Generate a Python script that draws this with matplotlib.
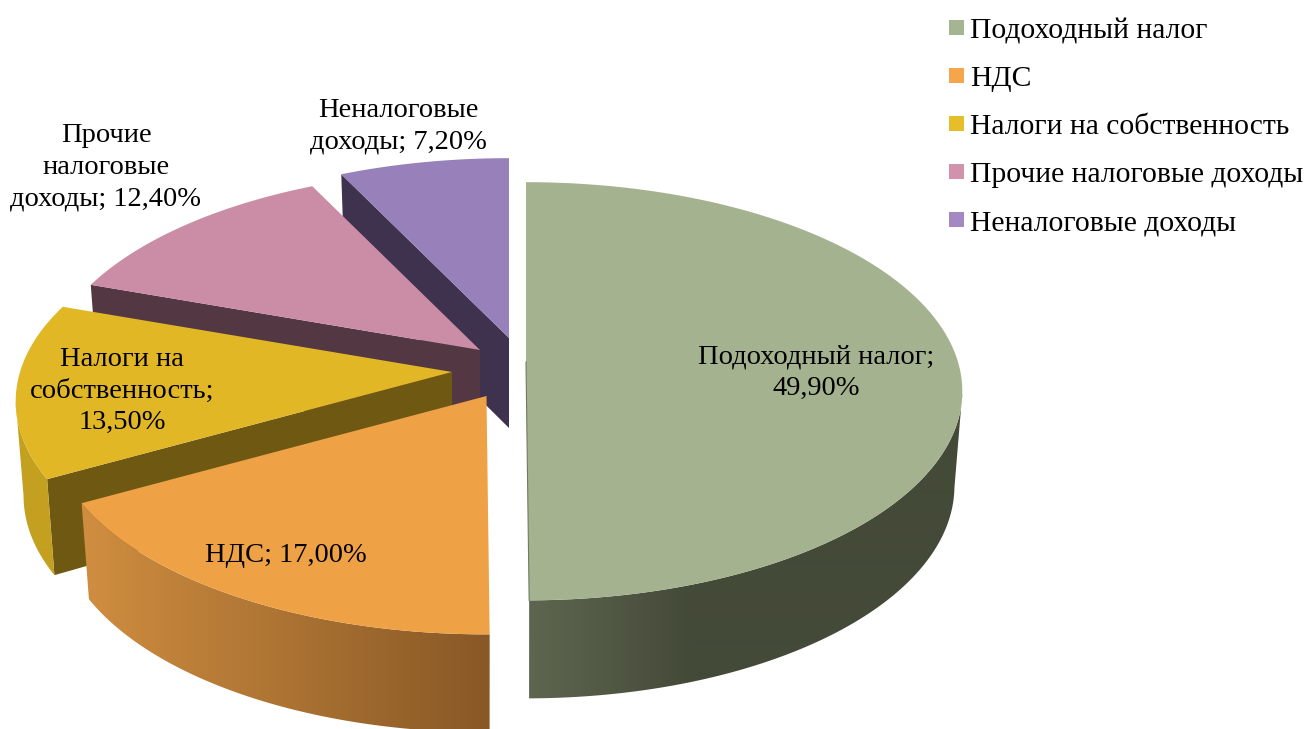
import numpy as np
import matplotlib
matplotlib.use('Agg')
import matplotlib.pyplot as plt
from matplotlib.colors import to_rgb
from matplotlib.patches import Polygon, Rectangle

# data
names = ['Подоходный налог', 'НДС', 'Налоги на собственность',
         'Прочие налоговые доходы', 'Неналоговые доходы']
values = [49.9, 17.0, 13.5, 12.4, 7.2]
label_heads = ['Подоходный налог', 'НДС', 'Налоги на\nсобственность',
               'Прочие\nналоговые\nдоходы', 'Неналоговые\nдоходы']
label_seps = ['\n', ' ', '\n', ' ', ' ']

# styles
top_colors = ['#A5B28F', '#EFA146', '#E2B726', '#CB8CA5', '#9880BA']
legend_colors = ['#A5B592', '#F5A54A', '#E6BE2A', '#D092AC', '#A388C4']
cut_colors = [None, None, '#6E5812', '#533843', '#3E324F']
wall_from = ['#5E6650', '#D08E40', '#C4A020', None, None]
wall_to = ['#444A38', '#885826', '#C4A020', None, None]
wall_stop = [(528, 690), (80, 488), (15, 60), None, None]

# layout, in pixels of the picture
apex_x = [526, 486.5, 452, 480, 509]
apex_y = [362, 396, 372, 350, 338]
label_x = [816, 286, 122, 106, 398]
label_y = [373, 555, 391, 167, 126]
R_X, R_Y, PERSP = 432, 205, 0.14
DEPTH, DEPTH_V, DEPTH_APEX, BOTTOM_SCALE = 94, 4, 90, 0.982
FONT = 'Liberation Serif'
W, H = 1309, 729


def rim(theta, i, bottom=False):
    u, v = np.sin(theta), -np.cos(theta)
    s = 1 / (1 - PERSP * v)
    dx, dy = R_X * u * s, R_Y * v * s
    if bottom:
        return apex_x[i] + dx * BOTTOM_SCALE, apex_y[i] + dy + DEPTH + DEPTH_V * v
    return apex_x[i] + dx, apex_y[i] + dy


fig = plt.figure(figsize=(W / 100, H / 100), dpi=100)
ax = fig.add_axes([0, 0, 1, 1])

edges = np.radians(np.cumsum([0] + values) * 3.6)
px = np.arange(W)

# back slices first so the nearer ones cover them
for z, i in enumerate([4, 3, 2, 1, 0]):
    t = np.linspace(edges[i], edges[i + 1], 300)
    if cut_colors[i]:
        # the cut face at the start of the slice
        x1, y1 = rim(edges[i], i)
        x2, y2 = rim(edges[i], i, True)
        face = [(apex_x[i], apex_y[i]), (x1, y1), (x2, y2),
                (apex_x[i], apex_y[i] + DEPTH_APEX)]
        ax.add_patch(Polygon(face, fc=cut_colors[i], ec='none', zorder=z * 3 + 1))
    if wall_from[i]:
        # outer wall between the two silhouette angles, shaded across x
        tw = t[(t >= np.radians(98)) & (t <= np.radians(262))]
        xt, yt = rim(tw, i)
        xb, yb = rim(tw, i, True)
        outline = list(zip(xt, yt)) + list(zip(xb[::-1], yb[::-1]))
        wall = Polygon(outline, transform=ax.transData, fc='none', ec='none')
        ax.add_patch(wall)
        c0, c1 = np.array(to_rgb(wall_from[i])), np.array(to_rgb(wall_to[i]))
        a, b = wall_stop[i]
        f = np.clip((px - a) / (b - a), 0, 1)[:, None]
        grad = (c0 + (c1 - c0) * f)[None, :, :]
        im = ax.imshow(grad, extent=(0, W, H, 0), aspect='auto', zorder=z * 3 + 2,
                       interpolation='bilinear')
        im.set_clip_path(wall)
    xt, yt = rim(t, i)
    pts = [(apex_x[i], apex_y[i])] + list(zip(xt, yt))
    ax.add_patch(Polygon(pts, fc=top_colors[i], ec='none', zorder=z * 3 + 3))

# thin dark edge of the big slice
xe, ye = rim(edges[1], 0)
ax.plot([apex_x[0], xe], [apex_y[0], ye], color='#6F7A60', lw=0.8, zorder=20)

ax.set_xlim(0, W)
ax.set_ylim(H, 0)
ax.axis('off')

# data labels
for i in range(len(values)):
    txt = label_heads[i] + ';' + label_seps[i] + f'{values[i]:.2f}%'.replace('.', ',')
    ax.text(label_x[i], label_y[i], txt, ha='center', va='center', family=FONT,
            fontsize=20.5, color='black', linespacing=1.35, zorder=40)

# legend
for i, name in enumerate(names):
    y = 29 + 48 * i
    ax.add_patch(Rectangle((949, y - 9.5), 15, 15, fc=legend_colors[i], ec='none', zorder=40))
    ax.text(970, y + 2, name, ha='left', va='center', family=FONT, fontsize=21.3,
            color='black', zorder=40)

fig.savefig('out.png', dpi=100)
